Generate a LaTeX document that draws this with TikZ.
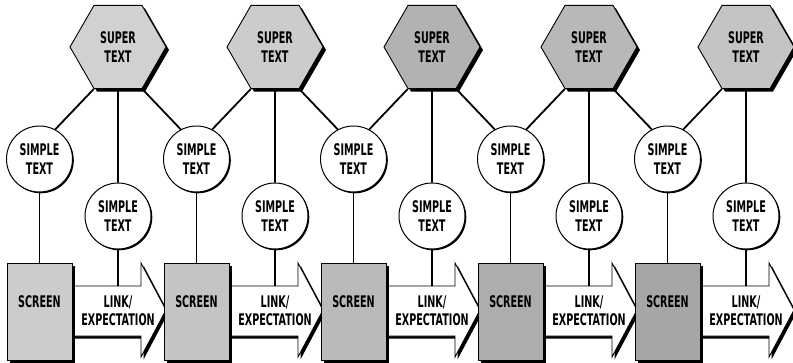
\documentclass[tikz,border=0pt]{standalone}
\usepackage{fontspec}
\usetikzlibrary{shapes.geometric,shadows}
\newfontfamily\labelfont[FakeStretch=0.6,BoldFeatures={FakeStretch=0.6}]{DejaVu Sans}

% outline of one link arrow, shifted right by #1
\newcommand\linkarrowpath[1]{({#1+40},286) -- ({#1+141},286) -- ({#1+141},263) -- ({#1+166},310)
  -- ({#1+141},357) -- ({#1+141},336) -- ({#1+40},336) -- cycle}

\tikzset{
  lbl/.style={font=\labelfont\bfseries\fontsize{16}{18.5}\selectfont, align=center, inner sep=0pt},
  hexbox/.style={lbl, regular polygon, regular polygon sides=6, minimum size=96pt,
    draw=black, line width=0.9pt,
    general shadow={shadow xshift=3pt, shadow yshift=-3pt, fill=black}},
  simplebox/.style={lbl, circle, minimum size=66pt, draw=black, line width=1pt, fill=white,
    general shadow={shadow xshift=1.3pt, shadow yshift=-1.3pt, fill=black}},
  screenbox/.style={rectangle, minimum width=65pt, minimum height=97pt, inner sep=0pt,
    draw=black, line width=0.9pt,
    general shadow={shadow xshift=3pt, shadow yshift=-2.5pt, fill=black}},
  conn/.style={draw=black, line width=1.8pt},
  arrowbody/.style={fill=white, draw=black, line width=0.9pt, line join=miter},
  arrowshade/.style={fill=black, shift={(2.5,2.5)}}
}

\begin{document}
\begin{tikzpicture}[x=1pt,y=-1pt]
\useasboundingbox[fill=white] (0,0) rectangle (793,362);

\foreach \i/\hp/\sp in {0/18/20, 1/20/23, 2/30/27, 3/28/32, 4/23/35}{
  \pgfmathsetmacro\X{157*\i}
  % link arrow with its shadow
  \fill[arrowshade] \linkarrowpath{\X};
  \path[arrowbody] \linkarrowpath{\X};
  \node[lbl] (link\i) at ({118+\X},311) {LINK/\\EXPECTATION};
  \coordinate (linktop\i) at ({118+\X},286);
  % screen
  \node[screenbox, fill=black!\sp!white] (scr\i) at ({39.5+\X},311.5) {};
  \node[lbl] (scrT\i) at ({39.5+\X},302) {SCREEN};
  % simple text circles
  \node[simplebox] (top\i) at ({39.5+\X},159) {SIMPLE\\TEXT};
  \node[simplebox] (low\i) at ({118+\X},216) {SIMPLE\\TEXT};
  % super text hexagon
  \node[hexbox, fill=black!\hp!white] (hex\i) at ({118+\X},47) {SUPER\\TEXT};
}

\foreach \i in {0,...,4}{
  \draw[conn] (hex\i.240) -- (top\i.62);
  \draw[conn] (hex\i.south) -- (low\i.north);
  \draw[conn] (low\i.south) -- (linktop\i);
  \draw[conn] (top\i.south) -- (scr\i.north);
}
\foreach \i in {0,...,3}{
  \pgfmathtruncatemacro\j{\i+1}
  \draw[conn] (hex\i.300) -- (top\j.118);
}
\end{tikzpicture}
\end{document}
